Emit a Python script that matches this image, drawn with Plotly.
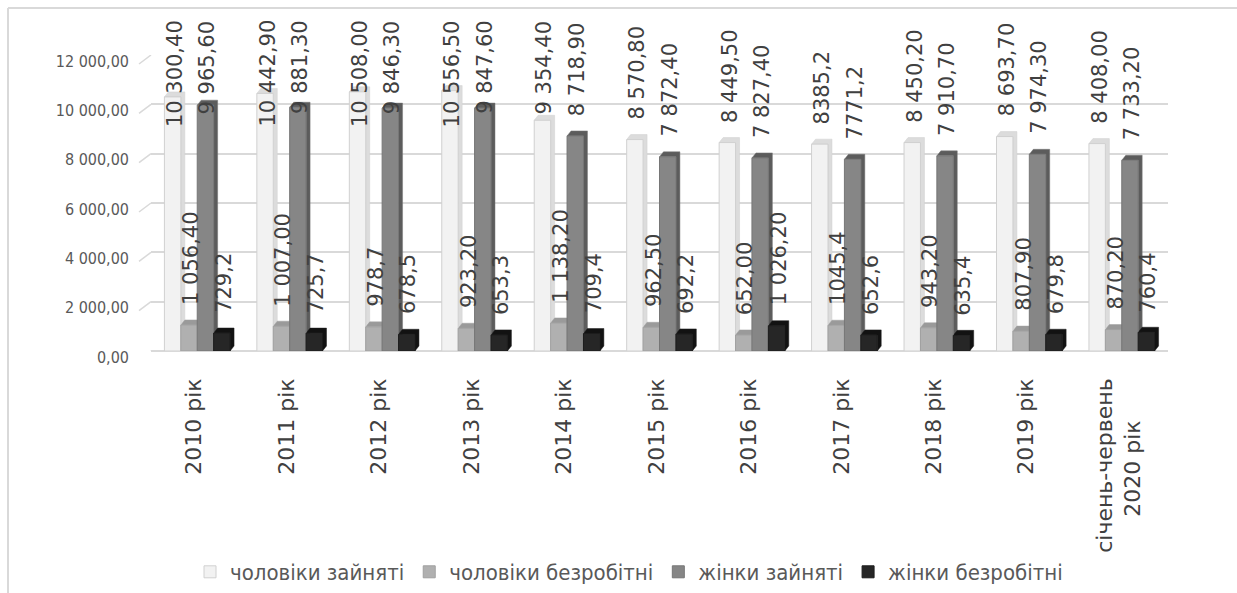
import plotly.graph_objects as go

# ---- data -----------------------------------------------------------------
categories = [
    "2010 рік", "2011 рік", "2012 рік", "2013 рік", "2014 рік", "2015 рік",
    "2016 рік", "2017 рік", "2018 рік", "2019 рік", "січень-червень<br>2020 рік",
]
series_names = ["чоловіки зайняті", "чоловіки безробітні", "жінки зайняті", "жінки безробітні"]

men_employed = ["10 300,40", "10 442,90", "10 508,00", "10 556,50", "9 354,40", "8 570,80",
                "8 449,50", "8385,2", "8 450,20", "8 693,70", "8 408,00"]
men_unemployed = ["1 056,40", "1 007,00", "978,7", "923,20", "1 138,20", "962,50",
                  "652,00", "1045,4", "943,20", "807,90", "870,20"]
women_employed = ["9 965,60", "9 881,30", "9 846,30", "9 847,60", "8 718,90", "7 872,40",
                  "7 827,40", "7771,2", "7 910,70", "7 974,30", "7 733,20"]
women_unemployed = ["729,2", "725,7", "678,5", "653,3", "709,4", "692,2",
                    "1 026,20", "652,6", "635,4", "679,8", "760,4"]

y_ticks = [0, 2000, 4000, 6000, 8000, 10000, 12000]
y_tick_labels = ["0,00", "2 000,00", "4 000,00", "6 000,00", "8 000,00", "10 000,00", "12 000,00"]

# ---- styling --------------------------------------------------------------
W, H = 1237, 593
ML, MR, MT, MB = 151, 69, 55, 242
PW, PH = W - ML - MR, H - MT - MB
Y_MAX = 12000

NARROW = "DejaVu Sans Condensed, Liberation Sans Narrow, DejaVu Sans, sans-serif"

front_colors = ["#f2f2f2", "#b0b0b0", "#868686", "#262626"]
edge_colors = ["#d0d0d0", "#a0a0a0", "#767676", "#1c1c1c"]
depth_colors = ["#dcdcdc", "#9a9a9a", "#5c5c5c", "#121212"]

BARGAP = 0.29
N_SERIES = 4
BAR_W = (1 - BARGAP) / N_SERIES          # width of one bar in category units
PX_PER_CAT = PW / len(categories)
DEPTH_X = 4 / PX_PER_CAT                 # 3-D depth of a bar, category units
DEPTH_Y = 5 * Y_MAX / PH                 # 3-D depth of a bar, value units

LABEL_FONT = 21
LABEL_GAP = 18      # px between bar top and its label
LABEL_TOP = 18      # px, highest position a label may reach
CAT_FONT = 22


def to_number(text):
    return float(text.replace(" ", "").replace(",", "."))


def px_x(px):
    return (px - ML) / PW


def px_y(py):
    return (H - MB - py) / PH


def text_em(text):
    """Rough DejaVu Sans width of a string, in em."""
    narrow = " ,і"
    return sum(0.318 if ch in narrow else 0.62 for ch in text)


def label_length(text):
    return text_em(text) * LABEL_FONT


def centered_lines(label):
    """Pad the shorter lines of a multi-line tick label so lines sit centred."""
    lines = label.split("<br>")
    if len(lines) == 1:
        return label
    longest = max(text_em(s) for s in lines)
    out = []
    for s in lines:
        pad = int(round((longest - text_em(s)) / 2 / 0.318))
        out.append(s + "\u00a0" * pad)
    return "<br>".join(out)


series_text = [men_employed, men_unemployed, women_employed, women_unemployed]
series_vals = [[to_number(t) for t in s] for s in series_text]
x_idx = list(range(len(categories)))

fig = go.Figure()
shapes = []
annotations = []

for k, (name, texts, vals) in enumerate(zip(series_names, series_text, series_vals)):
    fig.add_trace(go.Bar(
        x=x_idx, y=vals, name=name,
        marker=dict(color=front_colors[k], line=dict(color=edge_colors[k], width=1)),
        hoverinfo="skip",
    ))
    for i, (t, v) in enumerate(zip(texts, vals)):
        xc = i + (k - (N_SERIES - 1) / 2) * BAR_W
        x0, x1 = xc - BAR_W / 2, xc + BAR_W / 2
        # side and top faces for the 3-D look
        path = (f"M {x0},{v} L {x0 + DEPTH_X},{v + DEPTH_Y} L {x1 + DEPTH_X},{v + DEPTH_Y} "
                f"L {x1 + DEPTH_X},{DEPTH_Y} L {x1},0 L {x1},{v} Z")
        shapes.append(dict(type="path", path=path, xref="x", yref="y", layer="between",
                           fillcolor=depth_colors[k], line=dict(color=edge_colors[k], width=0.5)))
        # value label above the bar, kept inside the frame
        top_px = H - MB - v / Y_MAX * PH
        lbl = dict(text=t, textangle=-90, showarrow=False, xref="x",
                   x=xc + DEPTH_X / 2,
                   font=dict(family="DejaVu Sans", size=LABEL_FONT, color="#404040"))
        if top_px - LABEL_GAP - label_length(t) < LABEL_TOP:
            lbl.update(yref="paper", y=px_y(LABEL_TOP), yanchor="top")
        else:
            lbl.update(yref="y", y=v, yanchor="bottom", yshift=LABEL_GAP)
        annotations.append(lbl)

# small perspective stubs at the left end of every grid line
for t in y_ticks:
    shapes.append(dict(type="line", xref="paper", yref="y", xsizemode="pixel", ysizemode="pixel",
                       xanchor=0, yanchor=t, x0=-12, x1=0, y0=-9, y1=0,
                       line=dict(color="#d9d9d9", width=1.5)))

# frame of the chart area (top and left edges)
frame = dict(color="#d9d9d9", width=2)
shapes.append(dict(type="line", xref="paper", yref="paper", x0=px_x(8), x1=px_x(W),
                   y0=px_y(8), y1=px_y(8), line=frame))
shapes.append(dict(type="line", xref="paper", yref="paper", x0=px_x(8), x1=px_x(8),
                   y0=px_y(8), y1=px_y(H), line=frame))

fig.update_layout(
    width=W, height=H,
    margin=dict(l=ML, r=MR, t=MT, b=MB, autoexpand=False),
    paper_bgcolor="white", plot_bgcolor="white",
    barmode="group", bargap=BARGAP, bargroupgap=0,
    shapes=shapes, annotations=annotations,
    showlegend=True,
    legend=dict(orientation="h", x=px_x(190), xanchor="left", y=px_y(572), yanchor="middle",
                font=dict(family=NARROW, size=22, color="#595959"),
                itemclick=False, itemdoubleclick=False),
    xaxis=dict(range=[-0.5, len(categories) - 0.5], tickmode="array", tickvals=x_idx,
               ticktext=[centered_lines(c) for c in categories], tickangle=-90,
               showgrid=False, zeroline=False,
               showline=False, ticks="", ticklabelstandoff=22, ticklabelshift=-3,
               automargin=False,
               tickfont=dict(family="DejaVu Sans", size=CAT_FONT, color="#404040")),
    yaxis=dict(range=[0, Y_MAX], tickmode="array", tickvals=y_ticks, ticktext=y_tick_labels,
               showgrid=True, gridcolor="#d9d9d9", gridwidth=1.5,
               zeroline=True, zerolinecolor="#d9d9d9", zerolinewidth=1.5,
               showline=False, ticks="", ticklabelstandoff=21, ticklabelshift=6,
               automargin=False,
               tickfont=dict(family=NARROW, size=16, color="#595959")),
)

fig.write_html("out.html")
